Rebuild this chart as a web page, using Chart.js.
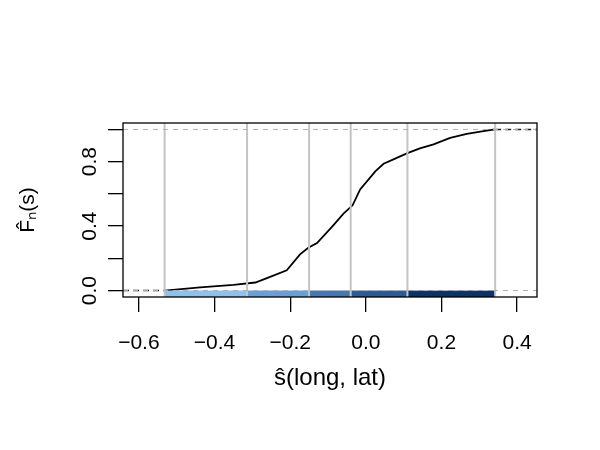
<!DOCTYPE html>
<html>
<head>
<meta charset="utf-8">
<script src="https://cdn.jsdelivr.net/npm/chart.js@4.4.0/dist/chart.umd.min.js"></script>
<style>
  html, body { margin: 0; padding: 0; background: #fff; }
  #wrap { width: 600px; height: 450px; }
</style>
</head>
<body>
<div id="wrap"><canvas id="ecdfChart" width="600" height="450"></canvas></div>
<script>
// ECDF of the smooth term
const sValues = [-0.532, -0.438, -0.350, -0.292, -0.253, -0.209, -0.174, -0.152, -0.129, -0.086,
                 -0.059, -0.035, -0.015, 0.025, 0.047, 0.073, 0.110, 0.143, 0.179, 0.223,
                 0.267, 0.311, 0.342];
const fnValues = [0.000, 0.020, 0.035, 0.050, 0.085, 0.126, 0.225, 0.266, 0.295, 0.405,
                  0.477, 0.529, 0.628, 0.740, 0.787, 0.814, 0.853, 0.882, 0.907, 0.948,
                  0.973, 0.989, 1.000];

// class breaks (grey verticals) and their colours
const breaks = [-0.532, -0.314, -0.150, -0.040, 0.110, 0.342];
const classColors = ['#8ec1ee', '#6a9fd8', '#4677b4', '#2a5b94', '#0b3367'];

const xTicks = [-0.6, -0.4, -0.2, 0.0, 0.2, 0.4];
const yTicks = [0.0, 0.2, 0.4, 0.6, 0.8, 1.0];
const yLabelled = [0.0, 0.4, 0.8];

const xMin = -0.642, xMax = 0.4526;
const yMin = -0.04, yMax = 1.04;

const datasets = [];

// reference lines at 0 and 1
[0, 1].forEach(h => {
    datasets.push({
        data: [{ x: xMin, y: h }, { x: xMax, y: h }],
        borderColor: '#b0b0b0', borderWidth: 1, borderDash: [5, 5],
        pointRadius: 0, fill: false
    });
});

// vertical break lines
breaks.forEach(b => {
    datasets.push({
        data: [{ x: b, y: yMin }, { x: b, y: yMax }],
        borderColor: '#c4c4c4', borderWidth: 2,
        pointRadius: 0, fill: false
    });
});

// colour strip under y = 0
classColors.forEach((c, i) => {
    datasets.push({
        data: [{ x: breaks[i], y: 0 }, { x: breaks[i + 1], y: 0 }],
        borderWidth: 0, borderColor: c, backgroundColor: c,
        pointRadius: 0, fill: { value: yMin }
    });
});

// tails of the step function
datasets.push({
    data: [{ x: xMin, y: 0 }, { x: sValues[0], y: 0 }],
    borderColor: '#222', borderWidth: 1.6, borderDash: [6, 4], pointRadius: 0, fill: false
});
datasets.push({
    data: [{ x: sValues[sValues.length - 1], y: 1 }, { x: xMax, y: 1 }],
    borderColor: '#222', borderWidth: 1.6, borderDash: [6, 4], pointRadius: 0, fill: false
});

// the curve itself
datasets.push({
    data: sValues.map((s, i) => ({ x: s, y: fnValues[i] })),
    borderColor: '#000', borderWidth: 1.8, pointRadius: 0, fill: false, tension: 0
});

// box around the plot region, like R's box()
const boxPlugin = {
    id: 'box',
    afterDraw(chart) {
        const { ctx, chartArea: a } = chart;
        ctx.save();
        ctx.strokeStyle = '#000';
        ctx.lineWidth = 1.3;
        ctx.strokeRect(a.left, a.top, a.right - a.left, a.bottom - a.top);
        ctx.restore();
    }
};

const font = { family: '"Liberation Sans", Arial, sans-serif', size: 21 };
const titleFont = { family: '"Liberation Sans", Arial, sans-serif', size: 24 };

new Chart(document.getElementById('ecdfChart').getContext('2d'), {
    type: 'line',
    data: { datasets: datasets },
    options: {
        responsive: false,
        animation: false,
        events: [],
        layout: { padding: { top: 123, right: 63, left: 0, bottom: 0 } },
        plugins: { legend: { display: false }, tooltip: { enabled: false } },
        scales: {
            x: {
                type: 'linear', min: xMin, max: xMax,
                afterBuildTicks: s => { s.ticks = xTicks.map(v => ({ value: v })); },
                afterFit: s => { s.height = 153; },
                grid: { drawOnChartArea: false, tickLength: 15, color: '#000', lineWidth: 1.3 },
                border: { display: false },
                ticks: {
                    color: '#000', font: font, padding: 19, maxRotation: 0,
                    callback: v => (v < 0 ? '\u2212' : '') + Math.abs(v).toFixed(1)
                },
                title: {
                    display: true, text: 's\u0302(long, lat)', color: '#000',
                    font: titleFont, padding: { top: 0, bottom: 57 }
                }
            },
            y: {
                type: 'linear', min: yMin, max: yMax,
                afterBuildTicks: s => { s.ticks = yTicks.map(v => ({ value: v })); },
                afterFit: s => { s.width = 123; },
                grid: { drawOnChartArea: false, tickLength: 15, color: '#000', lineWidth: 1.3 },
                border: { display: false },
                ticks: {
                    color: '#000', font: font, padding: 3, minRotation: 90, maxRotation: 90,
                    align: 'center', crossAlign: 'center',
                    callback: v => yLabelled.some(l => Math.abs(l - v) < 1e-9) ? v.toFixed(1) : ''
                },
                title: {
                    display: true, text: 'F\u0302\u2099(s)', color: '#000',
                    font: font, padding: { top: 16, bottom: 0 }
                }
            }
        }
    },
    plugins: [boxPlugin]
});
</script>
</body>
</html>
